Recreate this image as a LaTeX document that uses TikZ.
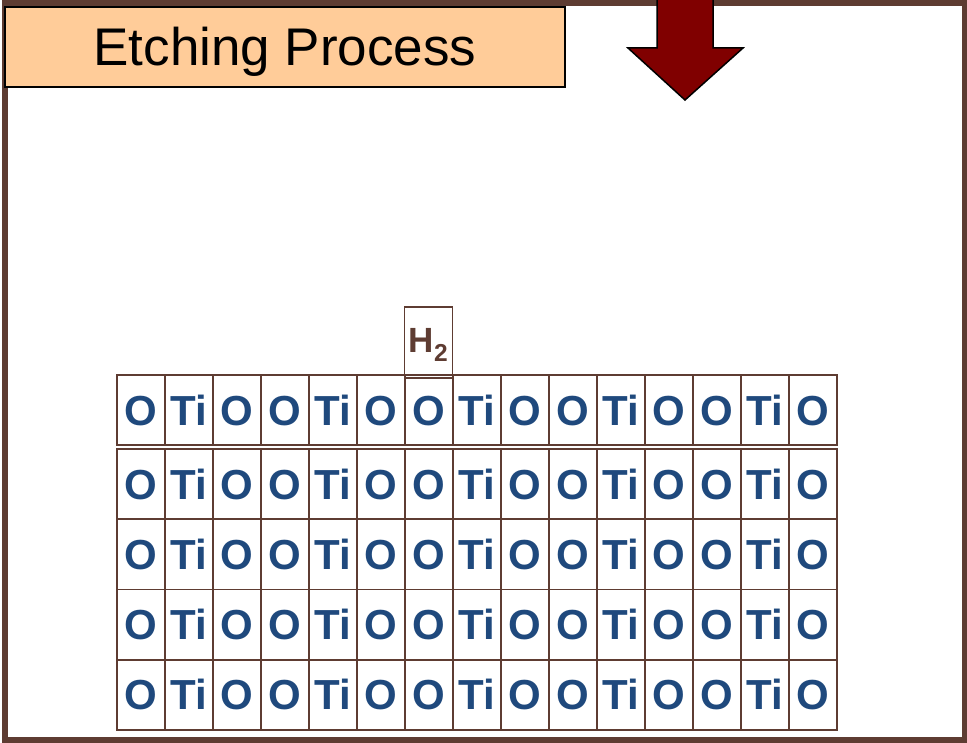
\documentclass[tikz,border=0pt]{standalone}
\usepackage{fontspec}
\setmainfont{Liberation Sans}
\definecolor{framebrown}{RGB}{94,60,50}
\definecolor{titlefill}{RGB}{255,204,153}
\definecolor{arrowred}{RGB}{128,0,0}
\definecolor{atomblue}{RGB}{31,73,125}
\begin{document}
\begin{tikzpicture}[x=1pt,y=-1pt,
  cell/.style={draw=framebrown,line width=1.6pt,minimum width=48pt,minimum height=70pt,
    inner sep=0pt,text height=30pt,text depth=0pt,text=atomblue,
    font=\fontsize{42}{42}\selectfont\bfseries},
  lowcell/.style={cell,minimum height=70.25pt},
  gasbox/.style={draw=framebrown,line width=1.6pt,minimum width=48pt,minimum height=71pt,
    inner sep=0pt,text height=25pt,text depth=5pt,text=framebrown,
    font=\fontsize{35}{35}\selectfont\bfseries},
  titlebox/.style={draw=black,line width=1.5pt,fill=titlefill,minimum width=560pt,
    minimum height=80pt,inner sep=0pt,text height=38pt,text depth=0pt,
    font=\fontsize{53}{53}\selectfont}]
\useasboundingbox (0,0) rectangle (967,743);
\fill[white] (0,0) rectangle (967,743);
% outer frame
\draw[framebrown,line width=6pt] (5,3.5) rectangle (964.5,740);
% title
\node[titlebox] (title) at (285,47) {Etching Process};
% downward block arrow
\fill[arrowred] (657,0) -- (657,48) -- (628,48) -- (685,100) -- (743,48) -- (713,48) -- (713,0) -- cycle;
\draw[black,line width=1.5pt,line join=miter] (657,0) -- (657,48) -- (628,48) -- (685,100) -- (743,48) -- (713,48) -- (713,0);
% surface layer (top row) and bulk rows
\foreach \i/\sym in {0/O,1/Ti,2/O,3/O,4/Ti,5/O,6/O,7/Ti,8/O,9/O,10/Ti,11/O,12/O,13/Ti,14/O}{
  \node[cell] (s\i) at ({141+48*\i},410) {\sym};
  \foreach \r in {1,2,3,4}{
    \node[lowcell] (b\r-\i) at ({141+48*\i},{449+70.25*(\r-0.5)}) {\sym};
  }
}
% hydrogen molecule above the surface
\node[gasbox] (h2) at (428.5,342.5) {H\textsubscript{2}};
\end{tikzpicture}
\end{document}
